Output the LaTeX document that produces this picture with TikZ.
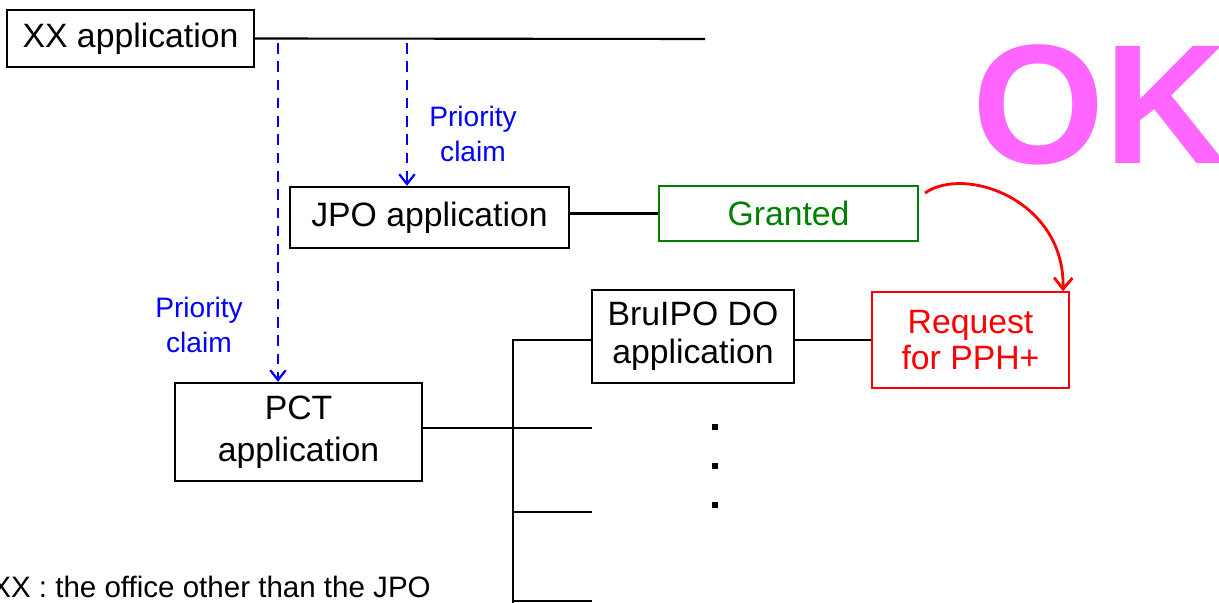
\documentclass[tikz,border=0pt]{standalone}
\usepackage{fontspec}
\setmainfont{Liberation Sans}
\usetikzlibrary{arrows.meta}
\definecolor{okpink}{RGB}{255,102,255}
\definecolor{grantgreen}{RGB}{0,128,0}

\begin{document}
\begin{tikzpicture}[x=0.025cm,y=-0.025cm,
  app/.style={draw,line width=1.6pt,align=center,inner sep=0pt,font=\fontsize{24}{28}\selectfont},
  link/.style={line width=1.5pt},
  claim/.style={blue,line width=1.6pt,dash pattern=on 7.5pt off 5.5pt,-{Straight Barb[length=7pt,width=11pt]}},
  claimtext/.style={blue,align=center,inner sep=0pt,font=\fontsize{20}{25}\selectfont}]

\useasboundingbox (0,0) rectangle (1219,603);
\clip (0,0) rectangle (1219,603);

% boxes
\node[app,minimum width=6.175cm,minimum height=1.425cm] (xx) at (130.5,38.5) {XX application};
\node[app,minimum width=6.975cm,minimum height=1.525cm] (jpo) at (429.5,217.5) {JPO application};
\node[app,draw=grantgreen,text=grantgreen,line width=1pt,minimum width=6.475cm,minimum height=1.375cm] (granted) at (788.5,213.5) {Granted};
\node[app,font=\fontsize{24}{27}\selectfont,minimum width=5.05cm,minimum height=2.325cm] (bru) at (693,336.5) {BruIPO DO\\application};
\node[app,draw=red,text=red,line width=1pt,font=\fontsize{24}{25.5}\selectfont,minimum width=4.925cm,minimum height=2.4cm] (req) at (970.5,340) {Request\\for PPH+};
\node[app,font=\fontsize{24}{30}\selectfont,minimum width=6.175cm,minimum height=2.45cm] (pct) at (298.5,432) {PCT\\application};

% XX line and priority claims
\coordinate (xxend) at (705,39);
\draw[link] (xx.east) -- (xxend);
\coordinate (pA) at (278,43);
\coordinate (pB) at (407,43);
\draw[claim] (pA) -- (pA |- pct.north);
\draw[claim] (pB) -- (pB |- jpo.north);
\node[claimtext] (claimB) at (473,134) {Priority\\claim};
\node[claimtext] (claimA) at (199,325) {Priority\\claim};

% JPO -> granted
\draw[link] (jpo.east |- granted.west) -- (granted.west);

% designated offices
\coordinate (trunk) at (513,340);
\coordinate (trunkend) at (513,603);
\draw[link] (bru.west |- trunk) -- (trunk) -- (trunkend);
\foreach \y [count=\i] in {428,512,601} {
  \coordinate (br\i) at (592,\y);
  \draw[link] (br\i -| trunk) -- (br\i);
}
\draw[link] (pct.east |- br1) -- (br1 -| trunk);
\draw[link] (bru.east |- trunk) -- (trunk -| req.west);
\foreach \y in {427,466,505}
\fill (712,\y-3) rectangle (718,\y+3);

% PPH request
\coordinate (gstart) at (925,193);
\coordinate (rtip) at (1063,0);
\draw[red,line width=2pt,-{Straight Barb[length=8pt,width=13pt]}] (gstart) .. controls (965,165) and (1065,200) .. (req.north -| rtip);

\node[text=okpink,font=\fontsize{121}{121}\selectfont\bfseries,inner sep=0pt,anchor=base west] (ok) at (972,164) {OK};
\node[anchor=base east,inner sep=0pt,font=\fontsize{21}{25}\selectfont] (note) at (431,597) {XX : the office other than the JPO};
\end{tikzpicture}
\end{document}
